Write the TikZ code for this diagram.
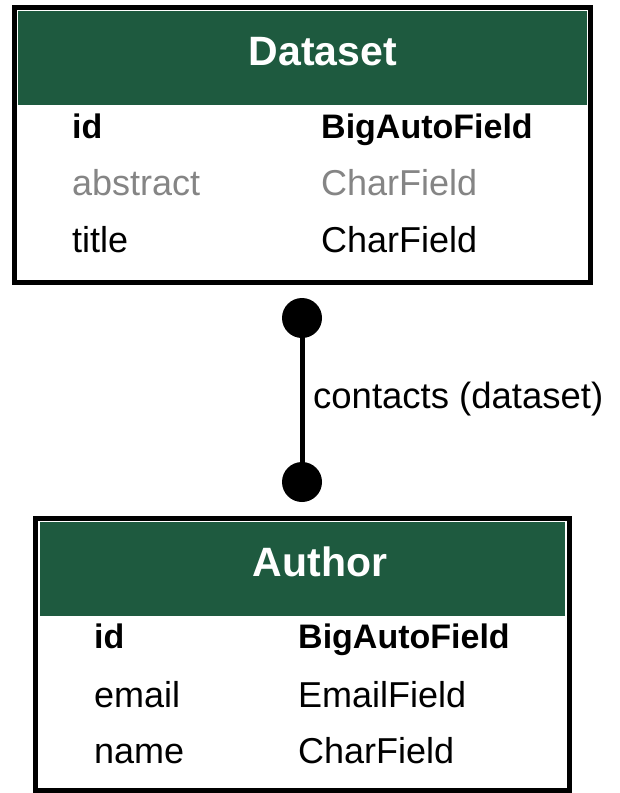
\documentclass[tikz,border=0pt]{standalone}
\usepackage{fontspec}
\setmainfont{Liberation Sans}
\definecolor{hdrgreen}{HTML}{1E5A3F}
\definecolor{mutedtxt}{HTML}{858585}
\tikzset{
  tablebox/.style={draw=black, line width=5pt, fill=white, inner sep=0pt, outer sep=0pt},
  header/.style={fill=hdrgreen, draw=none, inner sep=0pt, outer sep=0pt},
  hdrtext/.style={anchor=base, inner sep=0pt, text=white, font=\fontsize{41}{45}\selectfont\bfseries},
  fieldtxt/.style={anchor=base west, inner sep=0pt, font=\fontsize{36}{40}\selectfont},
  keytxt/.style={anchor=base west, inner sep=0pt, font=\fontsize{34}{40}\selectfont\bfseries},
  mutedfield/.style={fieldtxt, text=mutedtxt},
  enddot/.style={circle, fill=black, draw=none, minimum size=40pt, inner sep=0pt},
  relline/.style={draw=black, line width=5pt},
  rellabel/.style={anchor=base west, inner sep=0pt, font=\fontsize{36.5}{40}\selectfont}
}
\begin{document}
\begin{tikzpicture}[x=1pt, y=-1pt]
\useasboundingbox (0,0) rectangle (620,793);

% Dataset table
\node[tablebox, minimum width=576pt, minimum height=275.5pt] (dataset) at (302.5,144.75) {};
\node[header, minimum width=569pt, minimum height=94pt] (datasethdr) at (302.5,58) {};
\node[hdrtext] (datasettitle) at (323,65) {Dataset};
\node[keytxt] (d-id) at (72,138) {id};
\node[keytxt] (d-idt) at (321,138) {BigAutoField};
\node[mutedfield] (d-abs) at (72,195) {abstract};
\node[mutedfield] (d-abst) at (321,195) {CharField};
\node[fieldtxt] (d-title) at (72,252) {title};
\node[fieldtxt] (d-titlet) at (321,252) {CharField};

% Author table
\node[tablebox, minimum width=534pt, minimum height=272pt] (author) at (302.5,654.5) {};
\node[header, minimum width=525pt, minimum height=94pt] (authorhdr) at (302.5,569) {};
\node[hdrtext] (authortitle) at (320,576) {Author};
\node[keytxt] (a-id) at (94,648) {id};
\node[keytxt] (a-idt) at (298,648) {BigAutoField};
\node[fieldtxt] (a-email) at (94,707) {email};
\node[fieldtxt] (a-emailt) at (298,707) {EmailField};
\node[fieldtxt] (a-name) at (94,763) {name};
\node[fieldtxt] (a-namet) at (298,763) {CharField};

% Relation
\node[enddot] (dotA) at (302,318) {};
\node[enddot] (dotB) at (302,482) {};
\draw[relline] (dotA.center) -- (dotB.center);
\node[rellabel] (rel) at (313,408) {contacts (dataset)};
\end{tikzpicture}
\end{document}
